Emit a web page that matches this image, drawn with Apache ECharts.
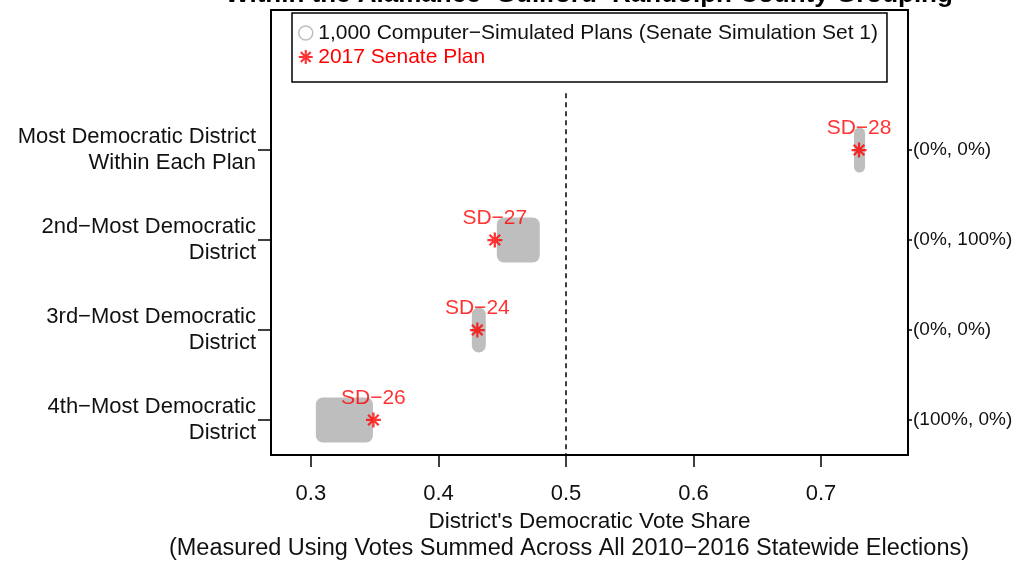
<!DOCTYPE html>
<html>
<head>
<meta charset="utf-8">
<script src="https://cdn.jsdelivr.net/npm/echarts@6/dist/echarts.min.js"></script>
<style>html,body{margin:0;padding:0;background:#fff;}#chart{width:1017px;height:562px;}</style>
</head>
<body>
<div id="chart"></div>
<script>
// ---- data ----
const titleText = 'Within the Alamance\u2212Guilford\u2212Randolph County Grouping';
const districtRanks = [1, 2, 3, 4];
const districtLabels = [
  'Most Democratic District\nWithin Each Plan',
  '2nd\u2212Most Democratic\nDistrict',
  '3rd\u2212Most Democratic\nDistrict',
  '4th\u2212Most Democratic\nDistrict'
];
const rightLabels = ['(0%, 0%)', '(0%, 100%)', '(0%, 0%)', '(100%, 0%)'];
// range of the 1,000 simulated plans' vote shares for each rank
const simLow  = [0.7294, 0.4493, 0.4297, 0.3074];
const simHigh = [0.7310, 0.4759, 0.4336, 0.3451];
const simJitter = 0.2;
// 2017 enacted plan
const planValues = [0.7298, 0.4442, 0.4305, 0.3490];
const planNames = ['SD\u221228', 'SD\u221227', 'SD\u221224', 'SD\u221226'];
const xTicks = [0.3, 0.4, 0.5, 0.6, 0.7];
const xTickLabels = ['0.3', '0.4', '0.5', '0.6', '0.7'];
const refLineX = 0.5;
const simName = '1,000 Computer\u2212Simulated Plans (Senate Simulation Set 1)';
const planName = '2017 Senate Plan';
const xName = "District's Democratic Vote Share";
const xName2 = '(Measured Using Votes Summed Across All 2010\u22122016 Statewide Elections)';

// ---- chart ----
const FONT = '"Liberation Sans", Arial, Helvetica, sans-serif';
const Y_MIN = -0.556, Y_MAX = 4.389;
const X_MIN = 0.2687, X_MAX = 0.7682;
const STAR = 'path://M-1.5,-10L1.5,-10L1.5,10L-1.5,10Z M-10,-1.5L10,-1.5L10,1.5L-10,1.5Z M-6.01,-8.13L8.13,6.01L6.01,8.13L-8.13,-6.01Z M6.01,-8.13L8.13,-6.01L-6.01,8.13L-8.13,6.01Z';

const chart = echarts.init(document.getElementById('chart'), null, {renderer: 'canvas'});
const simData = districtRanks.map((r, i) => [simLow[i], simHigh[i], r]);
const planData = districtRanks.map((r, i) => ({value: [planValues[i], r], name: planNames[i]}));

const option = {
  animation: false,
  backgroundColor: '#fff',
  textStyle: {fontFamily: FONT},
  title: [
    {text: titleText, left: 589, textAlign: 'center', top: -18, padding: 0,
     textStyle: {fontFamily: FONT, fontSize: 26, fontWeight: 'bold', color: '#000'}},
    {text: xName2, left: 569, textAlign: 'center', top: 537, padding: 0,
     textStyle: {fontFamily: FONT, fontSize: 23.5, fontWeight: 'normal', color: '#111'}}
  ],
  grid: {left: 271, right: 109, top: 10, bottom: 107, show: true, borderColor: '#000', borderWidth: 2, backgroundColor: 'transparent'},
  legend: {
    orient: 'vertical', left: 292, top: 13, selectedMode: false,
    borderColor: '#000', borderWidth: 1.5, borderRadius: 0,
    padding: [8, 9, 13, 6], itemGap: 0, itemWidth: 15, itemHeight: 14,
    textStyle: {fontFamily: FONT, fontSize: 21, lineHeight: 24, color: '#111'},
    data: [
      {name: simName, icon: 'circle', itemStyle: {color: '#fff', borderColor: '#BEBEBE', borderWidth: 1.5}, textStyle: {color: '#111'}},
      {name: planName, icon: STAR, itemStyle: {color: '#FF0000'}, textStyle: {color: '#FF0000'}}
    ]
  },
  xAxis: {
    type: 'value', min: X_MIN, max: X_MAX, position: 'bottom',
    splitLine: {show: false},
    axisLine: {show: false, onZero: false},
    axisTick: {show: true, length: 12, customValues: xTicks, lineStyle: {color: '#000', width: 1.5}},
    axisLabel: {show: true, margin: 28, customValues: xTicks, fontSize: 22, color: '#111', fontFamily: FONT,
      formatter: v => { const i = xTicks.findIndex(t => Math.abs(t - v) < 1e-9); return i >= 0 ? xTickLabels[i] : ''; }},
    name: xName, nameLocation: 'middle', nameGap: 55,
    nameTextStyle: {fontSize: 22.5, color: '#111', fontFamily: FONT}
  },
  yAxis: [
    {
      type: 'value', inverse: true, min: Y_MIN, max: Y_MAX, position: 'left',
      splitLine: {show: false}, axisLine: {show: false, onZero: false},
      axisTick: {show: true, length: 13, customValues: districtRanks, lineStyle: {color: '#000', width: 1.5}},
      axisLabel: {show: true, margin: 15, customValues: districtRanks, fontSize: 22, lineHeight: 26, color: '#111', align: 'right', fontFamily: FONT,
        formatter: v => { const i = districtRanks.indexOf(Math.round(v)); return i >= 0 ? districtLabels[i] : ''; }}
    },
    {
      type: 'value', inverse: true, min: Y_MIN, max: Y_MAX, position: 'right',
      splitLine: {show: false}, axisLine: {show: false, onZero: false},
      axisTick: {show: true, length: 4, customValues: districtRanks, lineStyle: {color: '#000', width: 1.5}},
      axisLabel: {show: true, margin: 5, customValues: districtRanks, fontSize: 19, color: '#111', align: 'left', fontFamily: FONT,
        formatter: v => { const i = districtRanks.indexOf(Math.round(v)); return i >= 0 ? rightLabels[i] : ''; }}
    }
  ],
  series: [
    {
      name: simName, type: 'custom', xAxisIndex: 0, yAxisIndex: 0, z: 2,
      encode: {x: [0, 1], y: 2},
      data: simData,
      renderItem: (params, api) => {
        const lo = api.value(0), hi = api.value(1), r = api.value(2);
        const p1 = api.coord([lo, r - simJitter]);
        const p2 = api.coord([hi, r + simJitter]);
        const R = 4.5;
        const x = Math.min(p1[0], p2[0]) - R, y = Math.min(p1[1], p2[1]) - R;
        const w = Math.abs(p2[0] - p1[0]) + 2 * R, h = Math.abs(p2[1] - p1[1]) + 2 * R;
        return {type: 'rect', shape: {x, y, width: w, height: h, r: 7}, style: {fill: '#BEBEBE'}};
      }
    },
    {
      name: planName, type: 'scatter', xAxisIndex: 0, yAxisIndex: 0, z: 5,
      symbol: STAR, symbolSize: 15,
      itemStyle: {color: '#FF0000'},
      label: {show: true, position: 'top', distance: 4, formatter: p => p.name, color: '#FF0000', fontSize: 21, fontFamily: FONT},
      data: planData,
      markLine: {
        silent: true, symbol: 'none', animation: false,
        label: {show: false},
        lineStyle: {type: [5, 4], color: '#000', width: 1.5},
        data: [[{coord: [refLineX, 0.37]}, {coord: [refLineX, Y_MAX]}]]
      }
    }
  ]
};
chart.setOption(option);
</script>
</body>
</html>
